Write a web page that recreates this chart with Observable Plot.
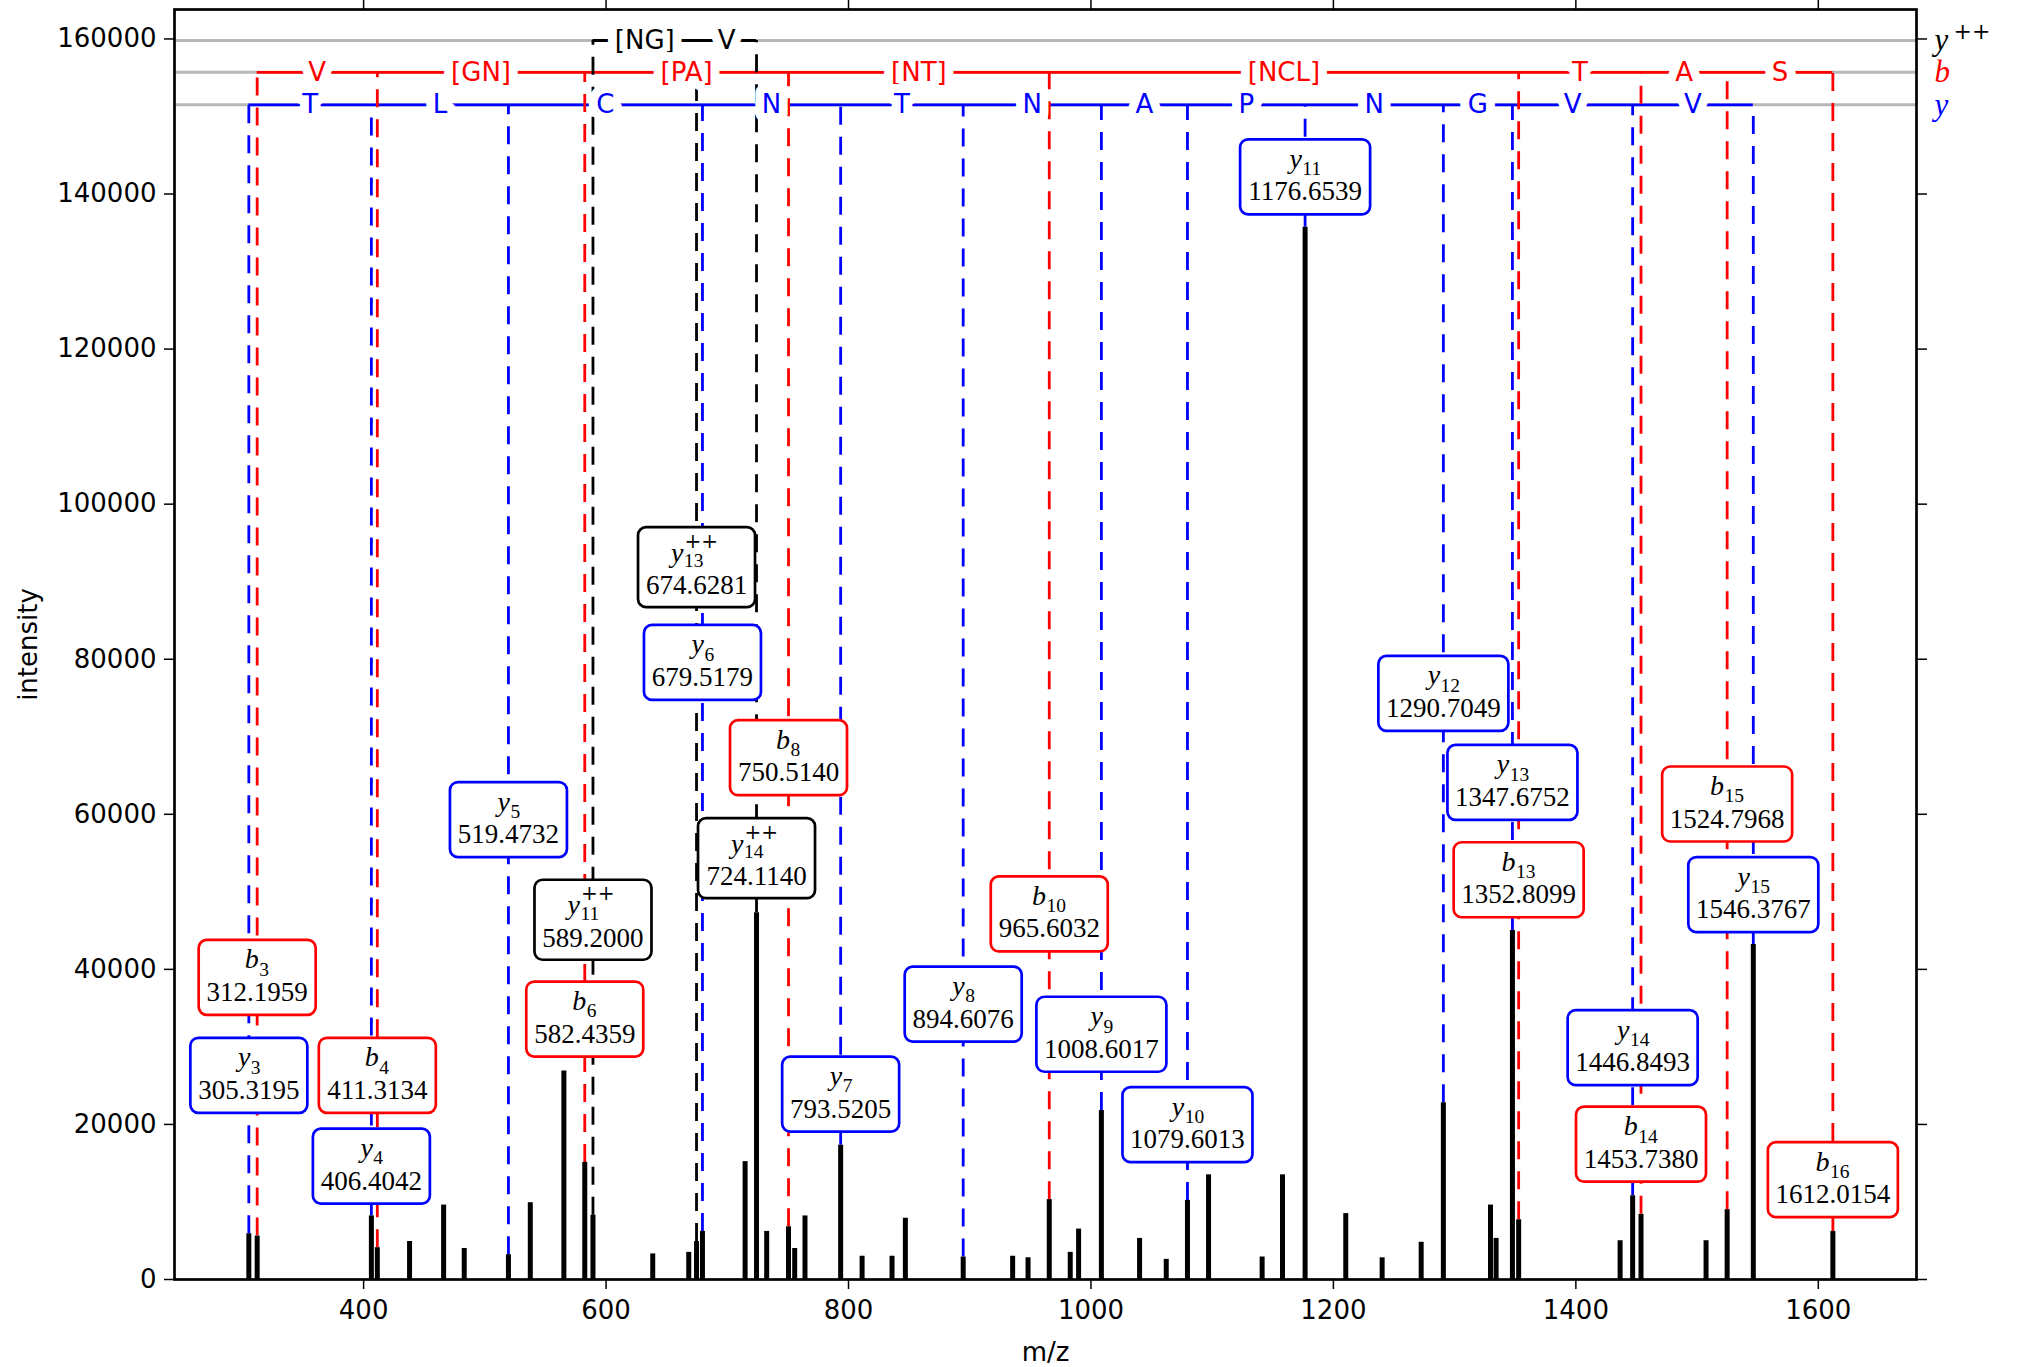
<!DOCTYPE html>
<html>
<head>
<meta charset="utf-8">
<script src="https://cdn.jsdelivr.net/npm/d3@7"></script>
<script src="https://cdn.jsdelivr.net/npm/@observablehq/plot@0.6"></script>
<style>
  html, body { margin: 0; padding: 0; background: #ffffff; }
</style>
</head>
<body>
<div id="chart"></div>
<script>
// ---------------- data ----------------
const peakMz = [305.3195, 312.1959, 406.4042, 411.3134, 437.9, 466.0, 483.0, 519.4732, 537.5, 565.2,
  582.4359, 589.2000, 638.5, 668.2, 674.6281, 679.5179, 714.7, 724.1140, 732.5, 750.5140,
  755.6, 764.1, 793.5205, 811.2, 835.9, 846.9, 894.6076, 935.4, 948.1, 965.6032,
  982.9, 989.8, 1008.6017, 1040.1, 1062.1, 1079.6013, 1097.0, 1141.2, 1158.0, 1176.6539,
  1210.2, 1240.2, 1272.4, 1290.7049, 1329.6, 1334.2, 1347.6752, 1352.8099, 1436.5, 1446.8493,
  1453.7380, 1507.4, 1524.7968, 1546.3767, 1612.0154];
const peakIntensity = [5900, 5600, 8200, 4100, 4900, 9600, 4000, 3200, 9900, 26900,
  15100, 8300, 3300, 3500, 4900, 6200, 15200, 47300, 6200, 6800,
  4000, 8200, 17300, 3000, 3000, 7900, 2900, 3000, 2800, 10300,
  3500, 6500, 21800, 5300, 2600, 10200, 13500, 2900, 13500, 135700,
  8500, 2800, 4800, 22800, 9600, 5300, 45000, 7700, 5000, 10800,
  8400, 5000, 9000, 43200, 6200];

const bIonNumbers = [3, 4, 6, 8, 10, 13, 14, 15, 16];
const bIonMz = [312.1959, 411.3134, 582.4359, 750.5140, 965.6032, 1352.8099, 1453.7380, 1524.7968, 1612.0154];
const bLabelY = [38970, 26340, 33590, 67300, 47150, 51560, 17450, 61330, 12880];
const bResidues = ["V", "[GN]", "[PA]", "[NT]", "[NCL]", "T", "A", "S"];

const yIonNumbers = [3, 4, 5, 6, 7, 8, 9, 10, 11, 12, 13, 14, 15];
const yIonMz = [305.3195, 406.4042, 519.4732, 679.5179, 793.5205, 894.6076, 1008.6017, 1079.6013, 1176.6539, 1290.7049, 1347.6752, 1446.8493, 1546.3767];
const yLabelY = [26340, 14620, 59320, 79590, 23910, 35520, 31630, 19970, 142220, 75600, 64120, 29910, 49650];
const yResidues = ["T", "L", "C", "N", "T", "N", "A", "P", "N", "G", "V", "V"];

const y2IonNumbers = [11, 13, 14];
const y2IonMz = [589.2000, 674.6281, 724.1140];
const y2LabelY = [46400, 91880, 54340];
const y2Residues = ["[NG]", "V"];

const ladderSeries = ["y2", "b", "y"];
const ladderLevels = [159800, 155700, 151500];
const ladderColors = ["#000000", "#ff0000", "#0000ff"];

const xTicks = [400, 600, 800, 1000, 1200, 1400, 1600];
const yTicks = [0, 20000, 40000, 60000, 80000, 100000, 120000, 140000, 160000];

// ---------------- derived tables ----------------
const peaks = peakMz.map((mz, i) => ({mz, intensity: peakIntensity[i]}));
const levelOf = s => ladderLevels[ladderSeries.indexOf(s)];
const colorOf = s => ladderColors[ladderSeries.indexOf(s)];
const peakAt = mz => peakIntensity[peakMz.indexOf(mz)];

function ionRows(series, nums, mzs, ys) {
  return nums.map((n, i) => ({
    series, num: String(n), mz: mzs[i], labelY: ys[i],
    peak: peakAt(mzs[i]), level: levelOf(series), color: colorOf(series),
    letter: series === "b" ? "b" : "y", value: mzs[i].toFixed(4)
  }));
}
const ions = [
  ...ionRows("b", bIonNumbers, bIonMz, bLabelY),
  ...ionRows("y", yIonNumbers, yIonMz, yLabelY),
  ...ionRows("y2", y2IonNumbers, y2IonMz, y2LabelY)
];
function residueRows(series, mzs, res) {
  return res.map((r, i) => ({series, text: r, mz: (mzs[i] + mzs[i + 1]) / 2, level: levelOf(series), color: colorOf(series)}));
}
const residues = [
  ...residueRows("y2", y2IonMz, y2Residues),
  ...residueRows("b", bIonMz, bResidues),
  ...residueRows("y", yIonMz, yResidues)
];
const ladders = [
  {series: "y2", x1: y2IonMz[0], x2: y2IonMz[y2IonMz.length - 1], level: levelOf("y2"), color: colorOf("y2")},
  {series: "b", x1: bIonMz[0], x2: bIonMz[bIonMz.length - 1], level: levelOf("b"), color: colorOf("b")},
  {series: "y", x1: yIonMz[0], x2: yIonMz[yIonMz.length - 1], level: levelOf("y"), color: colorOf("y")}
];

// rounded label box as a custom dot symbol (half-width from r, fixed height)
function roundedBox(h, rad) {
  return {
    draw(ctx, size) {
      const w = Math.sqrt(size / Math.PI), hh = h / 2, r = rad;
      ctx.moveTo(-w + r, -hh);
      ctx.lineTo(w - r, -hh);
      ctx.arcTo(w, -hh, w, -hh + r, r);
      ctx.lineTo(w, hh - r);
      ctx.arcTo(w, hh, w - r, hh, r);
      ctx.lineTo(-w + r, hh);
      ctx.arcTo(-w, hh, -w, hh - r, r);
      ctx.lineTo(-w, -hh + r);
      ctx.arcTo(-w, -hh, -w + r, -hh, r);
      ctx.closePath();
    }
  };
}

const serif = "Liberation Serif";
const isPP = d => d.series === "y2";
const boxMarks = [];
for (const pp of [false, true]) {
  for (const wide of [false, true]) {
    boxMarks.push(Plot.dot(ions, {
      filter: d => isPP(d) === pp && (d.mz >= 1000) === wide,
      x: "mz", y: "labelY", r: wide ? 65 : 58.5,
      symbol: roundedBox(pp ? 80 : 75, 8),
      fill: "white", stroke: "color", strokeWidth: 2.7
    }));
  }
}
// text inside boxes
const classes = [
  {f: d => !isPP(d) && d.num.length === 1, d: 1.5, ly: -17.9, sy: -7.9},
  {f: d => !isPP(d) && d.num.length === 2, d: -3.25, ly: -17.9, sy: -7.9},
  {f: d => isPP(d), d: -13, ly: -14.3, sy: -6.1}
];
const boxText = [];
for (const c of classes) {
  boxText.push(Plot.text(ions, {filter: c.f, x: "mz", y: "labelY", text: "letter", textAnchor: "end",
    dx: c.d, dy: c.ly, fontFamily: serif, fontStyle: "italic", fontSize: 28, fill: "black"}));
  boxText.push(Plot.text(ions, {filter: c.f, x: "mz", y: "labelY", text: "num", textAnchor: "start",
    dx: c.d + 0.5, dy: c.sy, fontFamily: serif, fontSize: 19.5, fill: "black"}));
}
boxText.push(Plot.text(ions, {filter: isPP, x: "mz", y: "labelY", text: () => "++", textAnchor: "start",
  dx: -12, dy: -26, fontFamily: "DejaVu Serif", fontSize: 20, fill: "black"}));
boxText.push(Plot.text(ions, {filter: d => !isPP(d), x: "mz", y: "labelY", text: "value",
  dy: 14.9, fontFamily: serif, fontSize: 27, fill: "black"}));
boxText.push(Plot.text(ions, {filter: isPP, x: "mz", y: "labelY", text: "value",
  dy: 18.4, fontFamily: serif, fontSize: 27, fill: "black"}));

const seriesLabels = ladderSeries.map((s, i) => ({s, level: ladderLevels[i], color: ladderColors[i], letter: s === "b" ? "b" : "y"}));

const chart = Plot.plot({
  width: 2019,
  height: 1367,
  marginLeft: 174,
  marginRight: 103,
  marginTop: 9,
  marginBottom: 88,
  style: {fontFamily: "DejaVu Sans", fontSize: "26px", background: "white", color: "black"},
  x: {domain: [244, 1681]},
  y: {domain: [0, 163800]},
  color: {type: "identity"},
  marks: [
    Plot.ruleY(ladderLevels, {stroke: "#b8b8b8", strokeWidth: 3}),
    Plot.ruleY(ladders, {y: "level", x1: "x1", x2: "x2", stroke: "color", strokeWidth: 2.8}),
    Plot.ruleX(ions, {x: "mz", y1: "peak", y2: "level", stroke: "color", strokeWidth: 2.8, strokeDasharray: "18,12"}),
    Plot.ruleX(peaks, {x: "mz", y: "intensity", stroke: "black", strokeWidth: 5}),
    Plot.text(residues, {x: "mz", y: "level", text: "text", fill: "color", stroke: "white", strokeWidth: 18,
      strokeLinejoin: "round", paintOrder: "stroke", fontFamily: "DejaVu Sans", fontSize: 26}),
    ...boxMarks,
    ...boxText,
    Plot.frame({stroke: "black", strokeWidth: 2.7}),
    Plot.axisX({anchor: "bottom", ticks: xTicks, tickSize: 10, tickPadding: 11, tickFormat: d3.format("d"),
      label: null, fontSize: 26, strokeWidth: 1.5}),
    Plot.axisX({anchor: "top", ticks: xTicks, tickSize: 10, tickFormat: () => "", label: null, strokeWidth: 1.5}),
    Plot.axisY({anchor: "left", ticks: yTicks, tickSize: 10, tickPadding: 8, tickFormat: d3.format("d"),
      label: null, fontSize: 26, strokeWidth: 1.5}),
    Plot.axisY({anchor: "right", ticks: yTicks, tickSize: 10, tickFormat: () => "", label: null, strokeWidth: 1.5}),
    Plot.text(seriesLabels, {y: "level", text: "letter", frameAnchor: "right", dx: 18, textAnchor: "start",
      lineAnchor: "middle", fill: "color", fontFamily: serif, fontStyle: "italic", fontSize: 31}),
    Plot.text(seriesLabels, {filter: d => d.s === "y2", y: "level", text: () => "++", frameAnchor: "right",
      dx: 37, dy: -9, textAnchor: "start", lineAnchor: "middle", fill: "black", fontFamily: "DejaVu Serif", fontSize: 22}),
    Plot.text(["intensity"], {frameAnchor: "left", dx: -146, rotate: -90, textAnchor: "middle", lineAnchor: "middle",
      fontSize: 26, fontFamily: "DejaVu Sans", fill: "black"}),
    Plot.text(["m/z"], {frameAnchor: "bottom", dy: 73, textAnchor: "middle", lineAnchor: "middle",
      fontSize: 26, fontFamily: "DejaVu Sans", fill: "black"})
  ]
});
document.getElementById("chart").appendChild(chart);
</script>
</body>
</html>
